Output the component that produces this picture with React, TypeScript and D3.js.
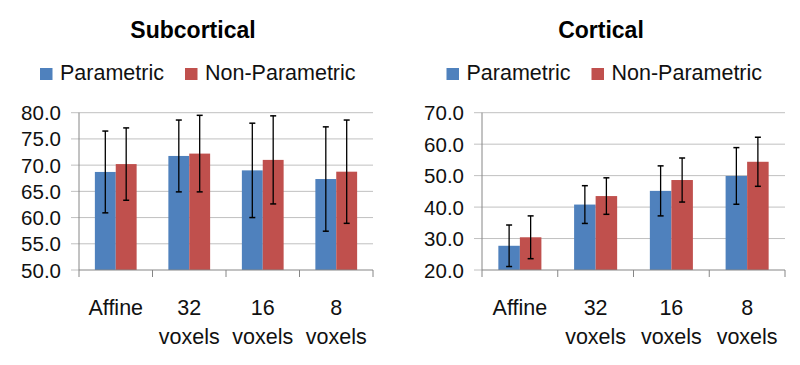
import * as d3 from 'd3';

const categories = ['Affine', '32 voxels', '16 voxels', '8 voxels'];
const seriesNames = ['Parametric', 'Non-Parametric'];
const seriesColors = ['#4F81BD', '#C0504D'];

const subParam = [68.7, 71.75, 69.0, 67.35];
const subParamErr = [7.8, 6.85, 9.0, 9.95];
const subNonParam = [70.2, 72.2, 71.0, 68.75];
const subNonParamErr = [6.9, 7.3, 8.4, 9.85];
const subTicks = [50, 55, 60, 65, 70, 75, 80];

const corParam = [27.7, 40.8, 45.15, 49.9];
const corParamErr = [6.6, 6.0, 7.95, 9.0];
const corNonParam = [30.4, 43.5, 48.6, 54.4];
const corNonParamErr = [6.8, 5.8, 7.0, 7.8];
const corTicks = [20, 30, 40, 50, 60, 70];

const FONT = '"Liberation Sans", Arial, sans-serif';

function Panel(props: {
  title: string;
  titleX: number;
  left: number;
  right: number;
  legendX: number;
  ticks: number[];
  values: number[][];
  errors: number[][];
}) {
  const { title, titleX, left, right, legendX, ticks, values, errors } = props;
  const top = 112.7;
  const bottom = 270;

  const y = d3.scaleLinear().domain(d3.extent(ticks) as [number, number]).range([bottom, top]);
  const x = d3.scaleBand().domain(categories).range([left, right]);
  const xs = d3.scaleBand().domain(seriesNames).range([0, x.bandwidth()]).paddingOuter(0.76);

  return (
    <g>
      <text x={titleX} y={38} textAnchor="middle" fontFamily={FONT} fontWeight="bold" fontSize={23}>
        {title}
      </text>
      {/* legend */}
      <g>
        <rect x={legendX} y={68} width={12.5} height={12} fill={seriesColors[0]} />
        <text x={legendX + 20} y={80} fontFamily={FONT} fontSize={21.5} fill="#111">{seriesNames[0]}</text>
        <rect x={legendX + 145} y={68} width={12.5} height={12} fill={seriesColors[1]} />
        <text x={legendX + 165} y={80} fontFamily={FONT} fontSize={21.5} fill="#111">{seriesNames[1]}</text>
      </g>
      {/* gridlines and y ticks */}
      {ticks.map((t) => (
        <g key={t}>
          <line x1={left - 8} x2={t === ticks[0] ? left : right} y1={y(t)} y2={y(t)} stroke="#c0c0c0" strokeWidth={1} />
          <text x={left - 18} y={y(t) + 7.5} textAnchor="end" fontFamily={FONT} fontSize={20.5} fill="#111">
            {d3.format('.1f')(t)}
          </text>
        </g>
      ))}
      {/* bars */}
      {seriesNames.map((s, si) =>
        categories.map((c, ci) => {
          const bx = (x(c) as number) + (xs(s) as number);
          const v = values[si][ci];
          const e = errors[si][ci];
          const cx = bx + xs.bandwidth() / 2;
          return (
            <g key={s + c}>
              <rect x={bx} y={y(v)} width={xs.bandwidth()} height={bottom - y(v)} fill={seriesColors[si]} />
              <line x1={cx} x2={cx} y1={y(v + e)} y2={y(v - e)} stroke="#000" strokeWidth={1.3} />
              <line x1={cx - 3} x2={cx + 3} y1={y(v + e)} y2={y(v + e)} stroke="#000" strokeWidth={1.5} />
              <line x1={cx - 3} x2={cx + 3} y1={y(v - e)} y2={y(v - e)} stroke="#000" strokeWidth={1.5} />
            </g>
          );
        })
      )}
      {/* axes */}
      <line x1={left} x2={left} y1={top} y2={bottom} stroke="#868686" strokeWidth={1} />
      <line x1={left} x2={right} y1={bottom} y2={bottom} stroke="#868686" strokeWidth={1} />
      {categories.map((c) => (
        <line key={'t' + c} x1={x(c)} x2={x(c)} y1={bottom} y2={bottom + 7} stroke="#868686" strokeWidth={1} />
      ))}
      <line x1={right} x2={right} y1={bottom} y2={bottom + 7} stroke="#868686" strokeWidth={1} />
      {categories.map((c) => {
        const parts = c.split(' ');
        const cx = (x(c) as number) + x.bandwidth() / 2;
        return (
          <text key={'l' + c} x={cx} textAnchor="middle" fontFamily={FONT} fontSize={21.5} fill="#111">
            {parts.map((p, i) => (
              <tspan key={p} x={cx} y={315 + i * 28.5}>{p}</tspan>
            ))}
          </text>
        );
      })}
    </g>
  );
}

export default function App() {
  return (
    <svg width={800} height={365} style={{ position: 'absolute', left: 0, top: 0, background: '#fff' }}>
      <rect width={800} height={365} fill="#fff" />
      <Panel
        title="Subcortical"
        titleX={193}
        left={79}
        right={373}
        legendX={40}
        ticks={subTicks}
        values={[subParam, subNonParam]}
        errors={[subParamErr, subNonParamErr]}
      />
      <Panel
        title="Cortical"
        titleX={601}
        left={482}
        right={785}
        legendX={446.5}
        ticks={corTicks}
        values={[corParam, corNonParam]}
        errors={[corParamErr, corNonParamErr]}
      />
    </svg>
  );
}
